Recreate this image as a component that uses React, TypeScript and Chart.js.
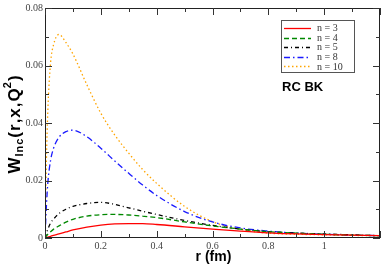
import React, { useEffect, useRef } from "react";
import { Chart, registerables } from "chart.js";

Chart.register(...registerables);

const rValues = [0, 0.005, 0.01, 0.02, 0.03, 0.05, 0.075, 0.1, 0.15, 0.2, 0.25, 0.3, 0.35, 0.4, 0.5, 0.6, 0.7, 0.8, 0.9, 1.0, 1.1, 1.2];
const n3 = [0, 0.00015, 0.0003, 0.0006, 0.0009, 0.0014, 0.0021, 0.0028, 0.0038, 0.0045, 0.0049, 0.005, 0.005, 0.0047, 0.0039, 0.0031, 0.0024, 0.0018, 0.0014, 0.0012, 0.001, 0.0008];
const n4 = [0, 0.0007, 0.0013, 0.0022, 0.003, 0.0042, 0.0055, 0.0065, 0.0076, 0.0081, 0.0082, 0.008, 0.0076, 0.0071, 0.0056, 0.0042, 0.0031, 0.0022, 0.0017, 0.0013, 0.001, 0.0008];
const n5 = [0, 0.0017, 0.003, 0.0052, 0.0065, 0.0085, 0.01, 0.011, 0.012, 0.0124, 0.0117, 0.0105, 0.0093, 0.0082, 0.0061, 0.0044, 0.0031, 0.0022, 0.0017, 0.0014, 0.0011, 0.0008];
const n8 = [0, 0.011, 0.019, 0.027, 0.031, 0.035, 0.037, 0.0375, 0.0352, 0.0312, 0.0268, 0.0225, 0.0184, 0.0148, 0.0092, 0.0056, 0.0035, 0.0024, 0.0017, 0.0013, 0.001, 0.0008];
const n10 = [0, 0.027, 0.044, 0.061, 0.067, 0.0708, 0.068, 0.064, 0.0533, 0.0434, 0.0358, 0.0295, 0.0238, 0.019, 0.011, 0.0057, 0.003, 0.0017, 0.0013, 0.0011, 0.0009, 0.0008];

const seriesLabels = ["n = 3", "n = 4", "n = 5", "n = 8", "n = 10"];
const xMajorTicks = [0, 0.2, 0.4, 0.6, 0.8, 1.0, 1.2];
const xMinorTicks = [0.1, 0.3, 0.5, 0.7, 0.9, 1.1];
const yMajorTicks = [0, 0.02, 0.04, 0.06, 0.08];
const yMinorTicks = [0.01, 0.03, 0.05, 0.07];
const xTickLabels = ["0", "0.2", "0.4", "0.6", "0.8", "1", ""];
const yTickLabels = ["0", "0.02", "0.04", "0.06", "0.08"];

const styles = [
  { color: "#ff0000", dash: [] as number[] },
  { color: "#008800", dash: [5, 3] },
  { color: "#000000", dash: [4, 3, 1, 3] },
  { color: "#1a1aff", dash: [6, 3, 1.5, 3] },
  { color: "#ffa500", dash: [1.5, 2.5] },
];

const seriesData = [n3, n4, n5, n8, n10];

const decorPlugin = {
  id: "decor",
  afterDraw(chart: any) {
    const ctx = chart.ctx;
    const { left, right, top, bottom } = chart.chartArea;
    const xs = chart.scales.x;
    const ys = chart.scales.y;
    ctx.save();
    ctx.strokeStyle = "#222";
    ctx.lineWidth = 1;
    ctx.setLineDash([]);
    ctx.strokeRect(left + 0.5, top + 0.5, right - left - 1, bottom - top - 1);
    ctx.strokeStyle = "#333";
    const drawX = (v: number, len: number) => {
      const px = Math.round(xs.getPixelForValue(v)) + 0.5;
      ctx.beginPath();
      ctx.moveTo(px, bottom);
      ctx.lineTo(px, bottom - len);
      ctx.moveTo(px, top);
      ctx.lineTo(px, top + len);
      ctx.stroke();
    };
    const drawY = (v: number, len: number) => {
      const py = Math.round(ys.getPixelForValue(v)) + 0.5;
      ctx.beginPath();
      ctx.moveTo(left, py);
      ctx.lineTo(left + len, py);
      ctx.moveTo(right, py);
      ctx.lineTo(right - len, py);
      ctx.stroke();
    };
    xMajorTicks.forEach((v) => drawX(v, 7));
    xMinorTicks.forEach((v) => drawX(v, 4));
    yMajorTicks.forEach((v) => drawY(v, 7));
    yMinorTicks.forEach((v) => drawY(v, 4));

    const bx = 281, by = 20, bw = 73, bh = 52;
    ctx.strokeStyle = "#555";
    ctx.strokeRect(bx + 0.5, by + 0.5, bw, bh);
    ctx.font = "10px 'Liberation Serif'";
    ctx.textBaseline = "middle";
    ctx.textAlign = "left";
    seriesLabels.forEach((lab, i) => {
      const yy = 28 + i * 9.6;
      ctx.strokeStyle = styles[i].color;
      ctx.lineWidth = 1.3;
      ctx.setLineDash(styles[i].dash);
      ctx.beginPath();
      ctx.moveTo(284, Math.round(yy) + 0.5);
      ctx.lineTo(311, Math.round(yy) + 0.5);
      ctx.stroke();
      ctx.setLineDash([]);
      ctx.fillStyle = "#333";
      ctx.fillText(lab, 317, yy + 0.5);
    });

    ctx.fillStyle = "#000";
    ctx.font = "bold 13px 'Liberation Sans'";
    ctx.textAlign = "left";
    ctx.textBaseline = "middle";
    ctx.fillText("RC BK", 282, 87);

    ctx.font = "bold 14px 'Liberation Sans'";
    ctx.textAlign = "center";
    ctx.fillText("r (fm)", 213.5, 257);

    ctx.translate(15, 124);
    ctx.rotate(-Math.PI / 2);
    const big = "bold 17px 'Liberation Sans'";
    const small = "bold 11px 'Liberation Sans'";
    const parts = [
      { t: "W", f: big, dy: 0 },
      { t: "Inc", f: small, dy: 5 },
      { t: "(r,x,Q", f: big, dy: 0 },
      { t: "2", f: small, dy: -7 },
      { t: ")", f: big, dy: 0 },
    ];
    const spacing = 1;
    let total = 0;
    const widths = parts.map((p) => {
      ctx.font = p.f;
      const w = ctx.measureText(p.t).width + p.t.length * spacing;
      total += w;
      return w;
    });
    let cx = -total / 2;
    ctx.textAlign = "left";
    ctx.textBaseline = "middle";
    parts.forEach((p, i) => {
      ctx.font = p.f;
      let x = cx;
      for (const ch of p.t) {
        ctx.fillText(ch, x, p.dy);
        x += ctx.measureText(ch).width + spacing;
      }
      cx += widths[i];
    });
    ctx.restore();
  },
};

export default function App() {
  const ref = useRef<HTMLCanvasElement>(null);
  useEffect(() => {
    if (!ref.current) return;
    const chart = new Chart(ref.current, {
      type: "line",
      data: {
        datasets: seriesData.map((arr, i) => ({
          label: seriesLabels[i],
          data: arr.map((y, j) => ({ x: rValues[j], y })),
          borderColor: styles[i].color,
          borderDash: styles[i].dash,
          borderWidth: 1.3,
          pointRadius: 0,
          fill: false,
          cubicInterpolationMode: "monotone" as const,
        })),
      },
      options: {
        animation: false,
        responsive: false,
        maintainAspectRatio: false,
        layout: { padding: { left: 0, top: 4, right: 2, bottom: 0 } },
        plugins: { legend: { display: false }, tooltip: { enabled: false } },
        scales: {
          x: {
            type: "linear",
            min: 0,
            max: 1.2,
            grid: { display: false, drawTicks: false },
            border: { display: false },
            afterBuildTicks: (s: any) => {
              s.ticks = xMajorTicks.map((v) => ({ value: v }));
            },
            afterFit: (s: any) => {
              s.height = 28;
            },
            ticks: {
              padding: 2,
              maxRotation: 0,
              autoSkip: false,
              color: "#444",
              font: { family: "'Liberation Serif'", size: 10 },
              callback: (_v: any, i: number) => xTickLabels[i],
            },
          },
          y: {
            type: "linear",
            min: 0,
            max: 0.08,
            grid: { display: false, drawTicks: false },
            border: { display: false },
            afterBuildTicks: (s: any) => {
              s.ticks = yMajorTicks.map((v) => ({ value: v }));
            },
            afterFit: (s: any) => {
              s.width = 45;
            },
            ticks: {
              padding: 2,
              autoSkip: false,
              color: "#444",
              font: { family: "'Liberation Serif'", size: 10 },
              callback: (_v: any, i: number) => yTickLabels[i],
            },
          },
        },
      },
      plugins: [decorPlugin],
    });
    return () => chart.destroy();
  }, []);
  return (
    <div style={{ position: "fixed", left: 0, top: 0, width: 382, height: 266, background: "#fff" }}>
      <canvas ref={ref} width={382} height={266} style={{ width: 382, height: 266 }} />
    </div>
  );
}
